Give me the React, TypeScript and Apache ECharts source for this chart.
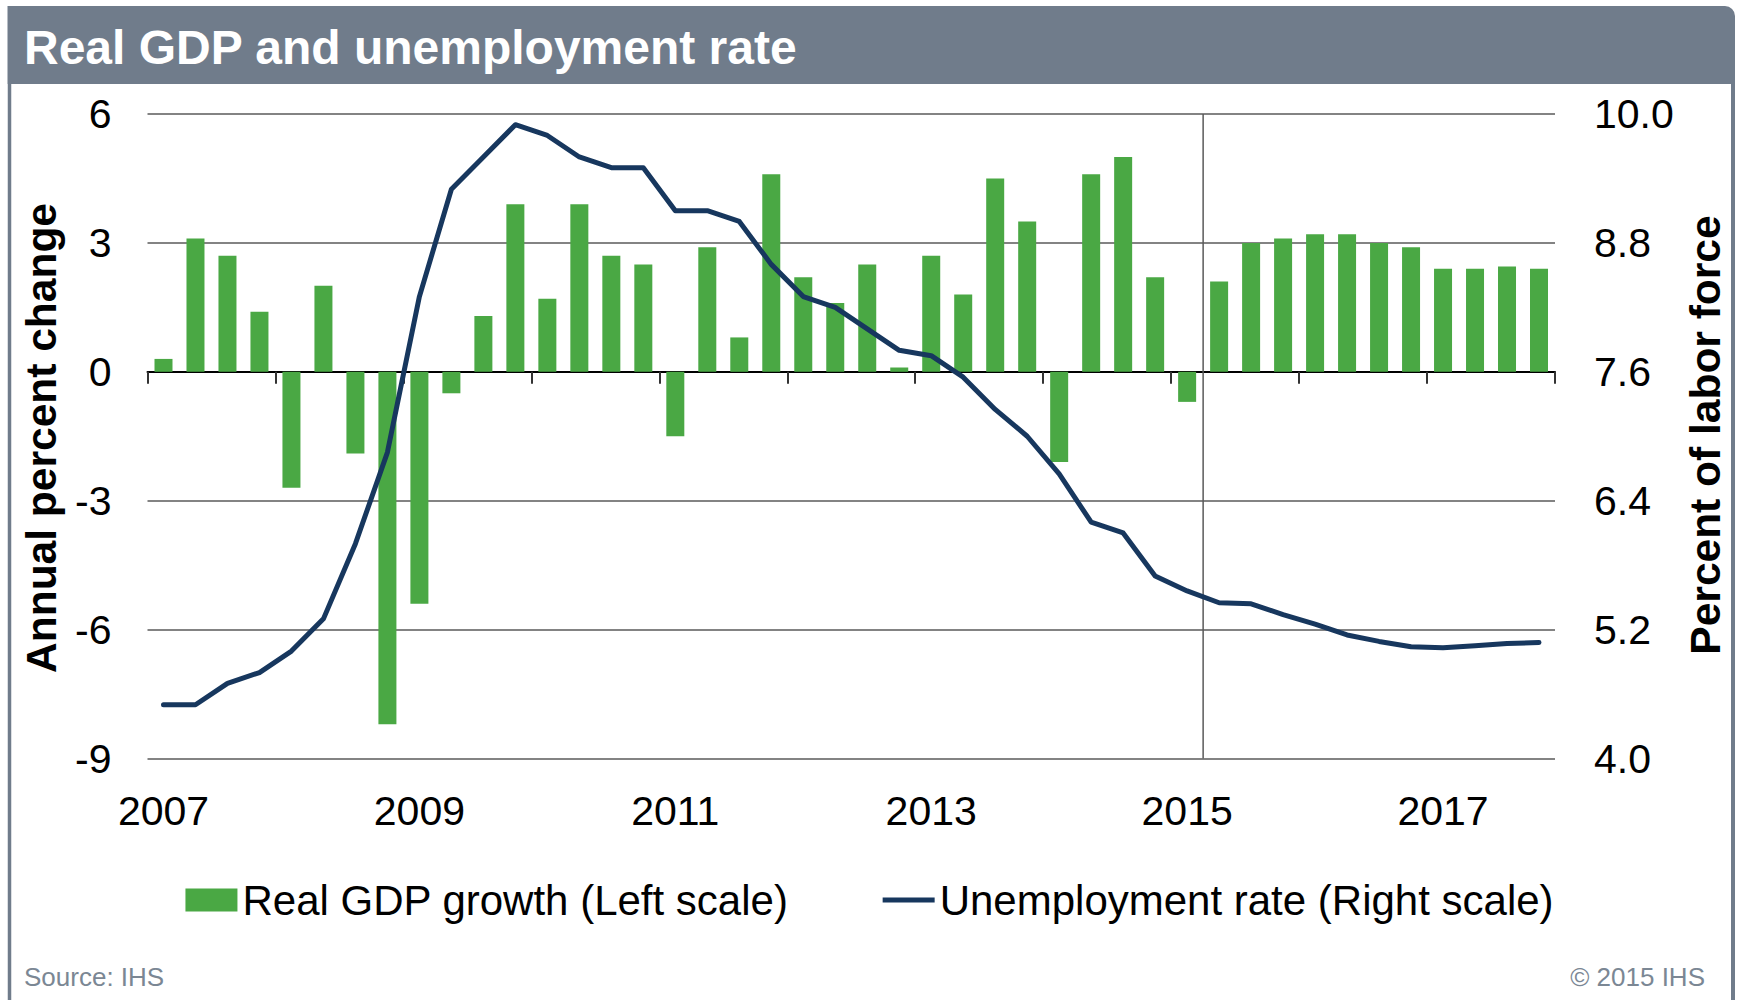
import React, { useEffect, useRef } from "react";
import * as echarts from "echarts";

const quarters = [
  "2007Q1", "2007Q2", "2007Q3", "2007Q4",
  "2008Q1", "2008Q2", "2008Q3", "2008Q4",
  "2009Q1", "2009Q2", "2009Q3", "2009Q4",
  "2010Q1", "2010Q2", "2010Q3", "2010Q4",
  "2011Q1", "2011Q2", "2011Q3", "2011Q4",
  "2012Q1", "2012Q2", "2012Q3", "2012Q4",
  "2013Q1", "2013Q2", "2013Q3", "2013Q4",
  "2014Q1", "2014Q2", "2014Q3", "2014Q4",
  "2015Q1", "2015Q2", "2015Q3", "2015Q4",
  "2016Q1", "2016Q2", "2016Q3", "2016Q4",
  "2017Q1", "2017Q2", "2017Q3", "2017Q4",
];

const gdpGrowth = [
  0.3, 3.1, 2.7, 1.4,
  -2.7, 2.0, -1.9, -8.2,
  -5.4, -0.5, 1.3, 3.9,
  1.7, 3.9, 2.7, 2.5,
  -1.5, 2.9, 0.8, 4.6,
  2.2, 1.6, 2.5, 0.1,
  2.7, 1.8, 4.5, 3.5,
  -2.1, 4.6, 5.0, 2.2,
  -0.7, 2.1, 3.0, 3.1,
  3.2, 3.2, 3.0, 2.9,
  2.4, 2.4, 2.45, 2.4,
];

const unemploymentRate = [
  4.5, 4.5, 4.7, 4.8,
  5.0, 5.3, 6.0, 6.85,
  8.3, 9.3, 9.6, 9.9,
  9.8, 9.6, 9.5, 9.5,
  9.1, 9.1, 9.0, 8.6,
  8.3, 8.2, 8.0, 7.8,
  7.75, 7.55, 7.25, 7.0,
  6.65, 6.2, 6.1, 5.7,
  5.56, 5.45, 5.44, 5.34,
  5.25, 5.15, 5.09, 5.04,
  5.03, 5.05, 5.07, 5.08,
];

const leftAxis = { min: -9, max: 6, step: 3 };
const rightAxis = { min: 4.0, max: 10.0, step: 1.2 };
const forecastStartIndex = 33; // boundary between 2015Q1 (history) and 2015Q2 (forecast)

const gdpName = "Real GDP growth (Left scale)";
const unempName = "Unemployment rate (Right scale)";
const titleText = "Real GDP and unemployment rate";
const leftAxisName = "Annual percent change";
const rightAxisName = "Percent of labor force";
const sourceText = "Source: IHS";
const copyrightText = "\u00A9 2015 IHS";

const FONT = "'Liberation Sans', Arial, Helvetica, sans-serif";
const FRAME = "#707c8b";
const GREEN = "#4aa844";
const NAVY = "#17375e";
const GRID = "#5a5a5a";

export default function App() {
  const ref = useRef<HTMLDivElement>(null);

  useEffect(() => {
    document.body.style.margin = "0";
    const chart = echarts.init(ref.current as HTMLDivElement, null, { renderer: "svg" });
    const option: any = {
      animation: false,
      backgroundColor: "#ffffff",
      textStyle: { fontFamily: FONT },
      grid: { left: 147.5, right: 184, top: 114, bottom: 241.5, containLabel: false },
      legend: {
        left: "center",
        top: 874,
        itemWidth: 52,
        itemHeight: 23,
        itemGap: 94,
        selectedMode: false,
        symbolKeepAspect: true,
        textStyle: { fontSize: 42, color: "#000", fontFamily: FONT },
        data: [
          { name: gdpName, icon: "rect" },
          { name: unempName, icon: "path://M0,0H52V5H0Z" },
        ],
      },
      xAxis: [
        {
          type: "category",
          data: quarters,
          position: "bottom",
          boundaryGap: true,
          axisLine: { show: true, onZero: true, onZeroAxisIndex: 0, lineStyle: { color: "#000", width: 2 } },
          axisTick: { show: true, interval: 3, length: 12, lineStyle: { color: "#333", width: 2 } },
          axisLabel: { show: false },
          splitLine: { show: false },
        },
        {
          type: "category",
          data: quarters,
          position: "bottom",
          boundaryGap: true,
          axisLine: { show: false, onZero: false },
          axisTick: { show: false },
          axisLabel: {
            show: true,
            interval: 7,
            formatter: (v: string) => v.slice(0, 4),
            fontSize: 41,
            color: "#000",
            margin: 32,
            fontFamily: FONT,
          },
          splitLine: { show: false },
        },
        { type: "value", min: 0, max: quarters.length, show: false },
      ],
      yAxis: [
        {
          type: "value",
          min: leftAxis.min,
          max: leftAxis.max,
          interval: leftAxis.step,
          position: "left",
          axisLine: { show: false },
          axisTick: { show: false },
          axisLabel: { fontSize: 41, color: "#000", margin: 36, fontFamily: FONT },
          splitLine: { show: true, lineStyle: { color: GRID, width: 1.5 } },
        },
        {
          type: "value",
          min: rightAxis.min,
          max: rightAxis.max,
          interval: rightAxis.step,
          position: "right",
          axisLine: { show: false },
          axisTick: { show: false },
          axisLabel: {
            fontSize: 41,
            color: "#000",
            margin: 39,
            fontFamily: FONT,
            formatter: (v: number) => v.toFixed(1),
          },
          splitLine: { show: false },
        },
      ],
      series: [
        {
          name: "forecast divider",
          type: "line",
          xAxisIndex: 2,
          yAxisIndex: 0,
          data: [
            [forecastStartIndex, leftAxis.min],
            [forecastStartIndex, leftAxis.max],
          ],
          symbol: "none",
          silent: true,
          lineStyle: { color: GRID, width: 1.5 },
          z: 1,
        },
        {
          name: gdpName,
          type: "bar",
          xAxisIndex: 0,
          yAxisIndex: 0,
          data: gdpGrowth,
          barWidth: 18,
          itemStyle: { color: GREEN },
          z: 2,
        },
        {
          name: unempName,
          type: "line",
          xAxisIndex: 0,
          yAxisIndex: 1,
          data: unemploymentRate,
          symbol: "none",
          showSymbol: false,
          lineStyle: { color: NAVY, width: 5, cap: "round", join: "round" },
          itemStyle: { color: NAVY },
          z: 3,
        },
      ],
      graphic: [
        {
          type: "rect",
          shape: { x: 7.5, y: 6, width: 1727.5, height: 78, r: [0, 10, 0, 0] },
          style: { fill: FRAME },
          silent: true,
        },
        {
          type: "line",
          shape: { x1: 9.5, y1: 84, x2: 9.5, y2: 1000 },
          style: { stroke: FRAME, lineWidth: 3.5 },
          silent: true,
        },
        {
          type: "line",
          shape: { x1: 1733, y1: 84, x2: 1733, y2: 1000 },
          style: { stroke: FRAME, lineWidth: 4 },
          silent: true,
        },
        {
          type: "text",
          x: 24,
          y: 47,
          style: {
            text: titleText,
            fill: "#ffffff",
            fontSize: 48,
            fontWeight: "bold",
            fontFamily: FONT,
            align: "left",
            verticalAlign: "middle",
          },
          silent: true,
        },
        {
          type: "text",
          x: 41,
          y: 438,
          rotation: Math.PI / 2,
          style: {
            text: leftAxisName,
            fill: "#000",
            fontSize: 42.5,
            fontWeight: "bold",
            fontFamily: FONT,
            align: "center",
            verticalAlign: "middle",
          },
          silent: true,
        },
        {
          type: "text",
          x: 1705,
          y: 435,
          rotation: Math.PI / 2,
          style: {
            text: rightAxisName,
            fill: "#000",
            fontSize: 42.5,
            fontWeight: "bold",
            fontFamily: FONT,
            align: "center",
            verticalAlign: "middle",
          },
          silent: true,
        },
        {
          type: "text",
          x: 24,
          y: 977,
          style: {
            text: sourceText,
            fill: "#7b8794",
            fontSize: 26,
            fontFamily: FONT,
            align: "left",
            verticalAlign: "middle",
          },
          silent: true,
        },
        {
          type: "text",
          x: 1705,
          y: 977,
          style: {
            text: copyrightText,
            fill: "#7b8794",
            fontSize: 26,
            fontFamily: FONT,
            align: "right",
            verticalAlign: "middle",
          },
          silent: true,
        },
      ],
    };
    chart.setOption(option);
    return () => {
      chart.dispose();
    };
  }, []);

  return <div ref={ref} style={{ width: 1739, height: 1000 }} />;
}
